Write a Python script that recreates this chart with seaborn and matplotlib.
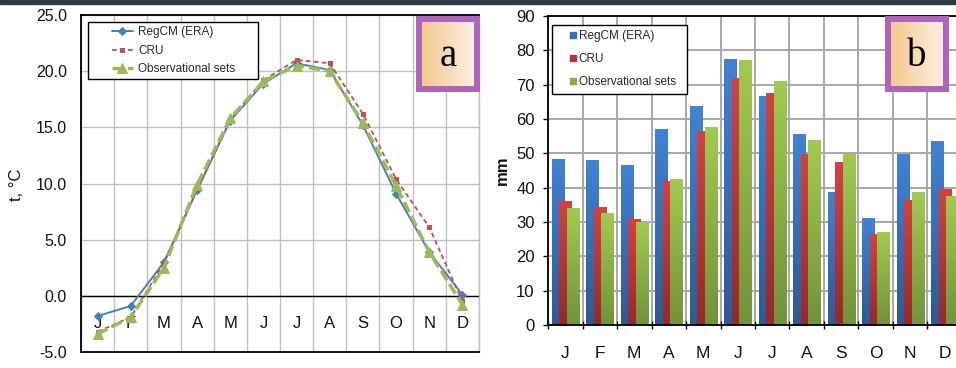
import numpy as np
import pandas as pd
import matplotlib
matplotlib.use("Agg")
import matplotlib.pyplot as plt
import seaborn as sns
from matplotlib.lines import Line2D
from matplotlib.legend_handler import HandlerLine2D
from matplotlib.colors import LinearSegmentedColormap
from matplotlib.patches import Rectangle

# ---------------- data ----------------
months = ["Jan", "Feb", "Mar", "Apr", "May", "Jun",
          "Jul", "Aug", "Sep", "Oct", "Nov", "Dec"]
month_labels = ["J", "F", "M", "A", "M", "J", "J", "A", "S", "O", "N", "D"]
series_names = ["RegCM (ERA)", "CRU", "Observational sets"]

temp_regcm = [-1.8, -0.9, 3.0, 9.4, 15.6, 18.9, 20.7, 20.1, 15.2, 9.1, 3.9, 0.1]
temp_cru = [-3.2, -1.9, 2.9, 9.5, 15.7, 19.2, 21.0, 20.7, 16.2, 10.4, 6.1, -0.5]
temp_obs = [-3.4, -1.9, 2.5, 9.9, 15.8, 19.1, 20.5, 20.0, 15.4, 9.8, 3.9, -0.8]

prec_regcm = [48.3, 48.0, 46.5, 57.0, 63.7, 77.4, 66.6, 55.5, 38.6, 31.1, 49.8, 53.5]
prec_cru = [36.0, 34.3, 30.8, 41.8, 56.4, 71.9, 67.5, 49.8, 47.4, 26.4, 36.4, 39.5]
prec_obs = [34.0, 32.5, 30.0, 42.4, 57.6, 77.1, 71.0, 53.8, 49.8, 27.0, 38.6, 37.5]

temp_ticks = [-5, 0, 5, 10, 15, 20, 25]
prec_ticks = [0, 10, 20, 30, 40, 50, 60, 70, 80, 90]
panel_letters = ["a", "b"]

# ---------------- style ----------------
sns.set_theme(style="white")
plt.rcParams["font.family"] = ["Liberation Sans", "DejaVu Sans"]

line_blue, line_red, line_green = "#4A7EBB", "#C0504D", "#9BBB59"
bar_mid = ["#3670B8", "#B83636", "#8AB043"]
bar_top = ["#4082D3", "#D44140", "#A2CA50"]
bar_bot = ["#2C5A97", "#952A2A", "#72933A"]

fig = plt.figure(figsize=(9.56, 3.68), dpi=100)
fig.patch.set_facecolor("white")

W, H = 956.0, 368.0
ax1 = fig.add_axes([81 / W, 1 - 352 / H, 398 / W, 337 / H])
ax2 = fig.add_axes([548 / W, 1 - 325 / H, 414 / W, 309 / H])

# ---------------- panel a : temperature ----------------
sns.lineplot(x=months, y=temp_regcm, ax=ax1, sort=False, color=line_blue,
             linewidth=1.4, marker="D", markersize=4.2, mec=line_blue,
             mfc=line_blue, zorder=4)
h1 = ax1.lines[-1]
sns.lineplot(x=months, y=temp_cru, ax=ax1, sort=False, color=line_red,
             linewidth=1.3, linestyle=(0, (2.6, 1.8)), marker="s",
             markersize=3.0, mec=line_red, mfc=line_red, zorder=5)
h2 = ax1.lines[-1]
sns.lineplot(x=months, y=temp_obs, ax=ax1, sort=False, color=line_green,
             linewidth=2.5, linestyle=(0, (3.2, 1.3)), marker="^",
             markersize=6.5, mec=line_green, mfc=line_green, zorder=6)
h3 = ax1.lines[-1]

ax1.axhline(0, color="black", linewidth=1.0, zorder=3)
ax1.set_xlim(-0.5, 11.5)
ax1.set_ylim(-5, 25)
ax1.set_xticks(np.arange(-0.5, 12, 1.0))
ax1.set_xticklabels([])
ax1.set_yticks(temp_ticks)
ax1.set_yticklabels([f"{v:.1f}" for v in temp_ticks])
ax1.grid(True, color="#C0C0C0", linewidth=1.0)
ax1.set_axisbelow(True)
ax1.tick_params(axis="both", length=0)
ax1.tick_params(axis="y", labelsize=11.5, pad=10, colors="#111111")
for i, lab in enumerate(month_labels):
    ax1.text(i, -2.5, lab, ha="center", va="center", fontsize=12,
             color="#111111", zorder=3)
for s in ["left", "bottom", "top"]:
    ax1.spines[s].set_color("black")
    ax1.spines[s].set_linewidth(1.3)
ax1.spines["right"].set_color("#C0C0C0")
ax1.spines["right"].set_linewidth(1.0)
ax1.set_xlabel("")
ax1.set_ylabel("t, °C", fontsize=12, color="#111111")
ax1.yaxis.set_label_coords(-0.143, 0.496)

leg1 = ax1.legend([h1, h2, h3], series_names, loc="upper left",
                  bbox_to_anchor=(0.0176, 0.5, 0.427, 0.479), mode="expand",
                  borderaxespad=0, fontsize=8.5, handlelength=3.42,
                  handletextpad=0.5, labelspacing=0.55, borderpad=0.35,
                  frameon=True, fancybox=False, framealpha=1,
                  edgecolor="black",
                  handler_map={Line2D: HandlerLine2D(xpad=1.72, numpoints=1)})
leg1.get_frame().set_linewidth(1.0)
leg1.set_zorder(10)

# ---------------- panel b : precipitation ----------------
df = pd.DataFrame({
    "month": months * 3,
    "source": [series_names[0]] * 12 + [series_names[1]] * 12 + [series_names[2]] * 12,
    "mm": prec_regcm + prec_cru + prec_obs,
})
sns.barplot(data=df, x="month", y="mm", hue="source", hue_order=series_names,
            order=months, palette=bar_mid, width=0.65, saturation=1,
            errorbar=None, legend=False, ax=ax2, edgecolor="none",
            linewidth=0)

bar_w = 0.35
bars = [p for p in ax2.patches if isinstance(p, Rectangle)]
for p in bars:
    cx = p.get_x() + p.get_width() / 2
    k = int(round((cx - round(cx)) / 0.2167)) + 1
    k = min(max(k, 0), 2)
    p.set_width(bar_w)
    p.set_x(cx - bar_w / 2)
    z = 2 + k * 0.1
    p.set_zorder(z)
    x0, y0, h = p.get_x(), p.get_y(), p.get_height()
    cmap = LinearSegmentedColormap.from_list("g%d" % k, [bar_bot[k], bar_top[k]])
    im = ax2.imshow(np.linspace(0, 1, 64).reshape(-1, 1),
                    extent=[x0, x0 + bar_w, y0, y0 + h], origin="lower",
                    aspect="auto", cmap=cmap, zorder=z + 0.05,
                    interpolation="bilinear")
    im.set_clip_path(p)

ax2.set_aspect("auto")
ax2.set_xlim(-0.5, 11.5)
ax2.set_ylim(0, 90)
ax2.set_xticks(range(12))
ax2.set_xticklabels(month_labels)
ax2.set_xticks(np.arange(-0.5, 12, 1.0), minor=True)
ax2.set_yticks(prec_ticks)
ax2.set_yticklabels([str(v) for v in prec_ticks])
ax2.grid(True, which="major", axis="y", color="#A8A8A8", linewidth=1.4)
ax2.grid(True, which="minor", axis="x", color="#A8A8A8", linewidth=1.4)
ax2.set_axisbelow(True)
ax2.tick_params(axis="x", which="major", length=0, labelsize=12.5, pad=15,
                colors="#111111")
ax2.tick_params(axis="x", which="minor", direction="inout", length=6,
                width=1, color="black", bottom=True)
ax2.tick_params(axis="y", which="major", direction="out", length=3.6,
                width=1, color="black", left=True, labelsize=12, pad=6,
                labelcolor="#111111")
for s in ["left", "bottom", "top"]:
    ax2.spines[s].set_color("black")
    ax2.spines[s].set_linewidth(1.3)
ax2.spines["right"].set_visible(False)
ax2.set_xlabel("")
ax2.set_ylabel("mm", fontsize=12, fontweight="bold", color="#111111")
ax2.yaxis.set_label_coords(-0.092, 0.5)

bh = [Line2D([], [], linestyle="none", marker="s", markersize=5,
             color=c, mec=c) for c in bar_mid]
leg2 = ax2.legend(bh, series_names, loc="upper left",
                  bbox_to_anchor=(0.0097, 0.5, 0.326, 0.471), mode="expand",
                  borderaxespad=0, fontsize=8.5, handlelength=1.65,
                  handletextpad=0.15, labelspacing=0.93, borderpad=0.45,
                  frameon=True, fancybox=False, framealpha=1,
                  edgecolor="black",
                  handler_map={Line2D: HandlerLine2D(xpad=1.03, numpoints=1)})
leg2.get_frame().set_linewidth(1.0)
leg2.set_zorder(10)

# ---------------- panel letters ----------------
box_cmap = LinearSegmentedColormap.from_list("box", ["#F3C68A", "#FDF1E5"])
for x0, letter in zip([419, 888], panel_letters):
    bx = fig.add_axes([x0 / W, 1 - 89 / H, 58 / W, 70 / H])
    bx.imshow(np.linspace(0, 1, 100).reshape(1, -1), cmap=box_cmap,
              aspect="auto", extent=[0, 1, 0, 1], interpolation="bilinear")
    bx.set_xticks([])
    bx.set_yticks([])
    for s in bx.spines.values():
        s.set_visible(True)
        s.set_color("#AE63BE")
        s.set_linewidth(4.3)
    bx.text(0.5, 0.47, letter, ha="center", va="center", fontsize=28,
            family=["Liberation Serif", "DejaVu Serif"], color="black",
            transform=bx.transAxes)

# dark strip on top
fig.add_artist(Rectangle((0, 1 - 3.5 / H), 1, 3.5 / H,
                         transform=fig.transFigure, color="#2E3947",
                         zorder=20))

fig.savefig("out.png", dpi=100, facecolor="white")
